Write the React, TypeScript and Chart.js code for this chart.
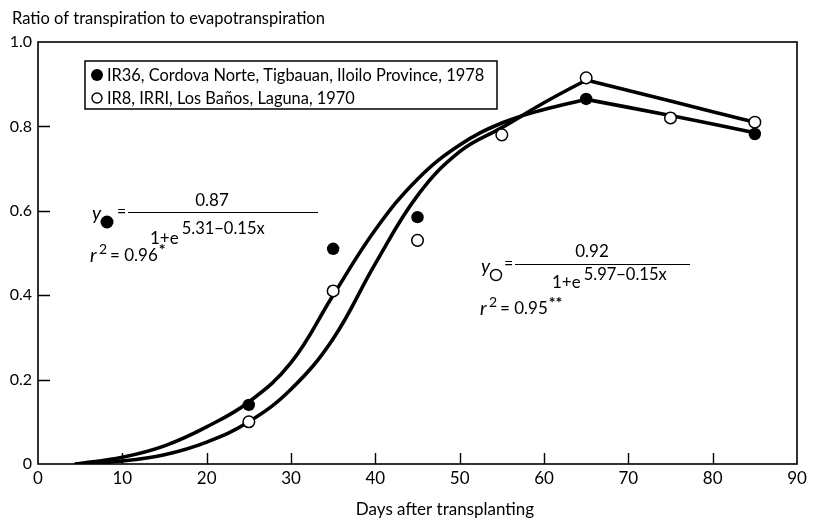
import React, { useEffect, useRef } from "react";
import { Chart, registerables } from "chart.js";

Chart.register(...registerables);

// ---- data ----
const curveDays = [4.5, 10, 15, 20, 25, 30, 35, 40, 45, 50, 55, 60, 65, 75, 85];
const ir36Curve = [0, 0.016, 0.043, 0.088, 0.147, 0.24, 0.4, 0.555, 0.675, 0.756, 0.808, 0.84, 0.864, 0.826, 0.785];
const ir8Curve = [0, 0.007, 0.022, 0.052, 0.1, 0.177, 0.297, 0.475, 0.636, 0.74, 0.797, 0.856, 0.91, 0.86, 0.81];
const peakDay = 65; // the fitted curves rise smoothly up to this day, then run straight

const ir36Days = [25, 35, 45, 65, 85];
const ir36Ratio = [0.14, 0.51, 0.585, 0.865, 0.782];
const ir8Days = [25, 35, 45, 55, 65, 75, 85];
const ir8Ratio = [0.1, 0.41, 0.53, 0.78, 0.915, 0.82, 0.81];

const xTickValues = [0, 10, 20, 30, 40, 50, 60, 70, 80, 90];
const yTickValues = [0, 0.2, 0.4, 0.6, 0.8, 1.0];
const yTickLabels = ["0", "0.2", "0.4", "0.6", "0.8", "1.0"];

const legendLabels = [
  "IR36, Cordova Norte, Tigbauan, Iloilo Province, 1978",
  "IR8, IRRI, Los Baños, Laguna, 1970",
];
const yTitle = "Ratio of transpiration to evapotranspiration";
const xTitle = "Days after transplanting";

const eq1 = { num: "0.87", exp: "5.31−0.15x", r2: "= 0.96", star: "*" };
const eq2 = { num: "0.92", exp: "5.97−0.15x", r2: "= 0.95", star: "**" };

const FONT = "Lato, 'Noto Sans', sans-serif";

const pts = (xs: number[], ys: number[]) => xs.map((x, i) => ({ x, y: ys[i] }));
const peakIdx = curveDays.indexOf(peakDay);
const rise = (ys: number[]) => pts(curveDays.slice(0, peakIdx + 1), ys.slice(0, peakIdx + 1));
const tail = (ys: number[]) => pts(curveDays.slice(peakIdx), ys.slice(peakIdx));

const decorPlugin = {
  id: "decor",
  afterDraw(chart: any) {
    const ctx = chart.ctx as CanvasRenderingContext2D;
    const { left, right, top, bottom } = chart.chartArea;
    const xs = chart.scales.x;
    const ys = chart.scales.y;
    ctx.save();
    ctx.strokeStyle = "#000";
    ctx.fillStyle = "#000";
    // frame
    ctx.lineWidth = 1.6;
    ctx.strokeRect(left, top, right - left, bottom - top);
    // inward ticks
    ctx.lineWidth = 1.4;
    ctx.beginPath();
    xTickValues.forEach((v) => {
      if (v === 0 || v === 90) return;
      const px = Math.round(xs.getPixelForValue(v)) + 0.5;
      ctx.moveTo(px, bottom);
      ctx.lineTo(px, bottom - 11);
    });
    yTickValues.forEach((v) => {
      if (v === 0 || v === 1) return;
      const py = Math.round(ys.getPixelForValue(v)) + 0.5;
      ctx.moveTo(left, py);
      ctx.lineTo(left + 12, py);
    });
    ctx.stroke();

    // titles
    ctx.textBaseline = "middle";
    ctx.font = `16.5px ${FONT}`;
    ctx.textAlign = "left";
    ctx.fillText(yTitle, 12, 19);
    ctx.font = `17px ${FONT}`;
    ctx.textAlign = "center";
    ctx.fillText(xTitle, 445, 510);

    // legend box
    ctx.fillStyle = "#fff";
    ctx.fillRect(85, 61, 412, 48);
    ctx.fillStyle = "#000";
    ctx.lineWidth = 1.5;
    ctx.strokeRect(85, 61, 412, 48);
    ctx.beginPath();
    ctx.arc(97, 75, 6, 0, Math.PI * 2);
    ctx.fill();
    ctx.beginPath();
    ctx.arc(97, 98, 5, 0, Math.PI * 2);
    ctx.lineWidth = 1.4;
    ctx.stroke();
    ctx.font = `16.4px ${FONT}`;
    ctx.textAlign = "left";
    ctx.fillText(legendLabels[0], 107, 76);
    ctx.fillText(legendLabels[1], 107, 99);

    const drawEq = (
      e: typeof eq1,
      o: { yx: number; yy: number; filled: boolean; lx0: number; lx1: number; ly: number; numX: number; numY: number; oneX: number; oneY: number; expY: number; rx: number; ry: number }
    ) => {
      ctx.textAlign = "left";
      ctx.font = `italic 19px ${FONT}`;
      ctx.fillText("y", o.yx, o.yy);
      ctx.beginPath();
      ctx.arc(o.yx + 15, o.yy + 8, o.filled ? 6.5 : 5.5, 0, Math.PI * 2);
      if (o.filled) ctx.fill();
      else {
        ctx.lineWidth = 1.4;
        ctx.stroke();
      }
      ctx.font = `16px ${FONT}`;
      ctx.fillText("=", o.lx0 - 11, o.ly);
      ctx.lineWidth = 1.2;
      ctx.beginPath();
      ctx.moveTo(o.lx0, o.ly + 0.5);
      ctx.lineTo(o.lx1, o.ly + 0.5);
      ctx.stroke();
      ctx.font = `17px ${FONT}`;
      ctx.textAlign = "center";
      ctx.fillText(e.num, o.numX, o.numY);
      ctx.textAlign = "left";
      ctx.fillText("1+e", o.oneX, o.oneY);
      const w1 = ctx.measureText("1+e").width;
      ctx.font = `16.5px ${FONT}`;
      ctx.fillText(e.exp, o.oneX + w1 + 3, o.expY);
      // r^2
      ctx.font = `italic 19px ${FONT}`;
      ctx.fillText("r", o.rx, o.ry);
      ctx.font = `14px ${FONT}`;
      ctx.fillText("2", o.rx + 9, o.ry - 7);
      ctx.font = `17px ${FONT}`;
      ctx.fillText(e.r2, o.rx + 20, o.ry);
      const w2 = ctx.measureText(e.r2).width;
      ctx.font = `bold 16px ${FONT}`;
      ctx.fillText(e.star, o.rx + 21 + w2, o.ry - 6);
    };
    drawEq(eq1, { yx: 92, yy: 214, filled: true, lx0: 128, lx1: 318, ly: 212, numX: 212, numY: 201, oneX: 150, oneY: 239, expY: 229, rx: 90, ry: 256 });
    drawEq(eq2, { yx: 481, yy: 267, filled: false, lx0: 515, lx1: 690, ly: 264, numX: 592, numY: 252, oneX: 552, oneY: 283, expY: 275, rx: 480, ry: 309 });

    ctx.restore();
  },
};

const curveStyle = {
  showLine: true,
  pointRadius: 0,
  borderColor: "#000",
  borderWidth: 3.6,
  borderCapStyle: "round",
  borderJoinStyle: "round",
  order: 3,
};

export default function App() {
  const ref = useRef<HTMLCanvasElement>(null);
  useEffect(() => {
    if (!ref.current) return;
    const chart = new Chart(ref.current, {
      type: "scatter",
      data: {
        datasets: [
          {
            data: pts(ir36Days, ir36Ratio),
            pointRadius: 6.2,
            pointBackgroundColor: "#000",
            pointBorderColor: "#000",
            pointBorderWidth: 0,
            showLine: false,
            order: 1,
          },
          {
            data: pts(ir8Days, ir8Ratio),
            pointRadius: 5.8,
            pointBackgroundColor: "#fff",
            pointBorderColor: "#000",
            pointBorderWidth: 1.5,
            showLine: false,
            order: 0,
          },
          { ...curveStyle, data: rise(ir36Curve), tension: 0.4 },
          { ...curveStyle, data: rise(ir8Curve), tension: 0.4 },
          { ...curveStyle, data: tail(ir36Curve), tension: 0.2 },
          { ...curveStyle, data: tail(ir8Curve), tension: 0.2 },
        ] as any,
      },
      options: {
        animation: false,
        responsive: false,
        devicePixelRatio: 1,
        layout: { padding: { top: 42, right: 16, left: 0, bottom: 0 } },
        plugins: { legend: { display: false }, tooltip: { enabled: false } },
        scales: {
          x: {
            type: "linear",
            min: 0,
            max: 90,
            afterBuildTicks: (s: any) => {
              s.ticks = xTickValues.map((v) => ({ value: v }));
            },
            ticks: { color: "#000", font: { size: 17, family: FONT }, padding: 4, maxRotation: 0 },
            grid: { display: false, drawTicks: false },
            border: { display: false },
            afterFit: (s: any) => {
              s.height = 59;
            },
          },
          y: {
            type: "linear",
            min: 0,
            max: 1,
            afterBuildTicks: (s: any) => {
              s.ticks = yTickValues.map((v) => ({ value: v }));
            },
            ticks: {
              color: "#000",
              font: { size: 16, family: FONT },
              padding: 6,
              callback: (v: any) => yTickLabels[yTickValues.findIndex((t) => Math.abs(t - v) < 1e-6)] ?? "",
            },
            grid: { display: false, drawTicks: false },
            border: { display: false },
            afterFit: (s: any) => {
              s.width = 38;
            },
          },
        },
      },
      plugins: [decorPlugin],
    });
    return () => chart.destroy();
  }, []);
  return (
    <div style={{ position: "fixed", left: 0, top: 0, width: 813, height: 523, background: "#fff" }}>
      <canvas ref={ref} width={813} height={523} style={{ display: "block" }} />
    </div>
  );
}
